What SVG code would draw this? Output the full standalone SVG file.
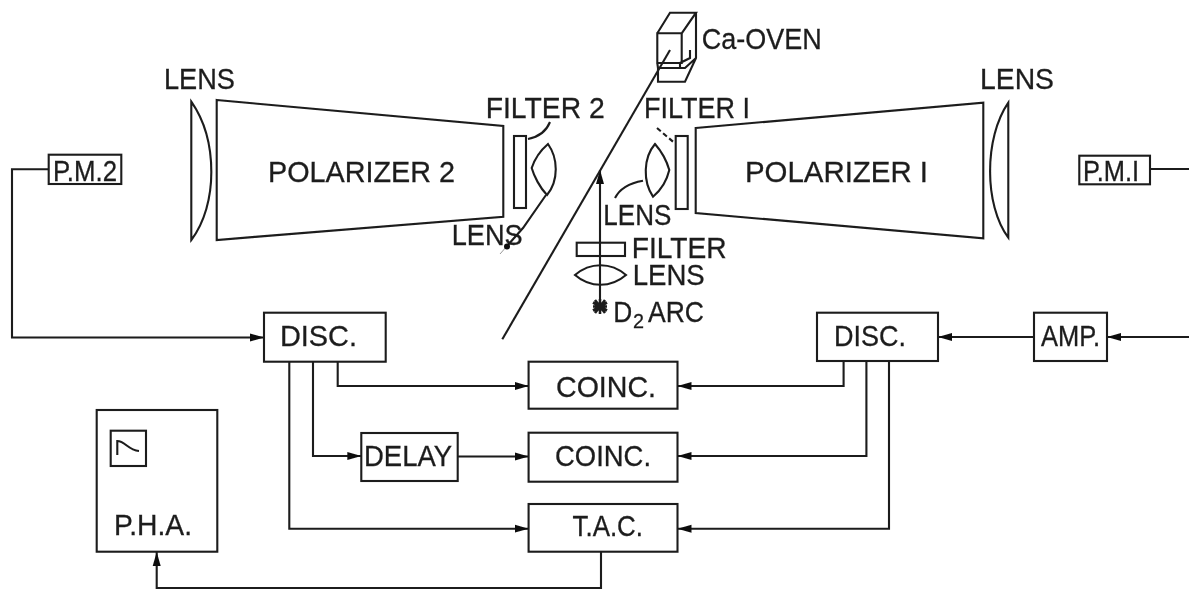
<svg xmlns="http://www.w3.org/2000/svg" width="1189" height="590" viewBox="0 0 1189 590">
<style>
.s{fill:none;stroke:#1c1c1c;stroke-width:2.1;stroke-linejoin:miter}
.t{font-family:"Liberation Sans",Arial,sans-serif;font-size:29.500px;fill:#1c1c1c;stroke:#1c1c1c;stroke-width:.3}
.a{marker-end:url(#ah)}
</style>
<defs>
<marker id="ah" markerUnits="userSpaceOnUse" markerWidth="15" markerHeight="11" refX="14" refY="5.500" orient="auto"><path d="M0 1.500 L14 5.500 L0 9.500 Z" fill="#111"/></marker>
<filter id="soft" x="0" y="0" width="1189" height="590" filterUnits="userSpaceOnUse"><feGaussianBlur stdDeviation="0.45"/></filter>
</defs>
<rect width="1189" height="590" fill="#fff"/>
<g filter="url(#soft)">
<g id="connectors">
<path class="s a" d="M48.700 169.300H12V337.500H264"/>
<path class="s" d="M1150 169H1189"/>
<path class="s a" d="M1189 337H1107"/>
<path class="s a" d="M1034 337H938"/>
<path class="s a" d="M337.700 362V386H528.600"/>
<path class="s a" d="M313 362V456H361.300"/>
<path class="s a" d="M289.300 362V528.700H528.600"/>
<path class="s a" d="M457.700 456.500H528.600"/>
<path class="s a" d="M843.600 361V386H677.500"/>
<path class="s a" d="M866.400 361V456H677.500"/>
<path class="s a" d="M889 361V528.700H677.500"/>
<path class="s a" d="M601 552V588H156.700V552"/>
<path class="s a" d="M600 300V170"/>
<path class="s" d="M502.300 339.300L670 50"/>
<path class="s" d="M528 139C538 137 546 132 550 122"/>
<path class="s" d="M546 195L523 228L507 246"/>
<path style="stroke:#999;stroke-width:1;fill:none" d="M507 246L500 254"/>
<circle cx="507" cy="246.500" r="3" fill="#111"/>
<path class="s" d="M657 128L673 141.700" stroke-dasharray="5 3"/>
<path class="s" d="M643 180.700C630 183 620 188 615 198"/>
</g>
<g id="ca-oven">
<path class="s" d="M657.300 33.300H681.700V63H657.300ZM657.300 33.300L670 12.700H696L681.700 33.300M696 12.700V58L685 81.700H658V68H685L696 58M690 50V58L680 63V68M658 68L657.300 63"/>
<text class="t" x="701.700" y="49" textLength="120" lengthAdjust="spacingAndGlyphs">Ca-OVEN</text>
</g>
<g id="lens-outer-left">
<path class="s" d="M191.300 101.700V240C218 205 218 140 191.300 101.700Z"/>
<text class="t" x="164" y="89.300" textLength="71" lengthAdjust="spacingAndGlyphs">LENS</text>
</g>
<g id="polarizer-2">
<path class="s" d="M216.700 100L503.300 126V216.700L216.700 240Z"/>
<text class="t" x="268" y="181.500" textLength="187" lengthAdjust="spacingAndGlyphs">POLARIZER 2</text>
</g>
<g id="filter-2">
<rect class="s" x="514" y="136" width="12" height="72"/>
<text class="t" x="485.700" y="118.300" textLength="119" lengthAdjust="spacingAndGlyphs">FILTER 2</text>
</g>
<g id="lens-2">
<path class="s" d="M548 144C558 158 559 180 547 195C540 188 534 176 531.700 168C535 158 541 150 548 144Z"/>
<text class="t" x="451.700" y="245" textLength="71" lengthAdjust="spacingAndGlyphs">LENS</text>
</g>
<g id="filter-1">
<rect class="s" x="675.700" y="136" width="12" height="73"/>
<text class="t" x="644" y="118.300" textLength="106" lengthAdjust="spacingAndGlyphs">FILTER I</text>
</g>
<g id="lens-1">
<path class="s" d="M655 144C662 152 667 162 669.300 170C667 180 661 190 653 196.700C643 182 643 158 655 144Z"/>
<text class="t" x="603.300" y="225" textLength="68" lengthAdjust="spacingAndGlyphs">LENS</text>
</g>
<g id="polarizer-1">
<path class="s" d="M695.700 128L983.300 102.700V238.300L695.700 213Z"/>
<text class="t" x="745" y="181.500" textLength="183" lengthAdjust="spacingAndGlyphs">POLARIZER I</text>
</g>
<g id="lens-outer-right">
<path class="s" d="M1008.300 102.700V237.700C984 205 984 138 1008.300 102.700Z"/>
<text class="t" x="980" y="89.300" textLength="74" lengthAdjust="spacingAndGlyphs">LENS</text>
</g>
<g id="pm2">
<rect class="s" x="48.700" y="154.700" width="72.600" height="29.300"/>
<text class="t" x="53" y="180.700" textLength="64" lengthAdjust="spacingAndGlyphs">P.M.2</text>
</g>
<g id="pm1">
<rect class="s" x="1079.300" y="155.700" width="70.700" height="28.600"/>
<text class="t" x="1083" y="180.700" textLength="56" lengthAdjust="spacingAndGlyphs">P.M.I</text>
</g>
<g id="filter">
<rect class="s" x="576.700" y="242.700" width="48.300" height="13.300"/>
<text class="t" x="631.700" y="258.300" textLength="95" lengthAdjust="spacingAndGlyphs">FILTER</text>
</g>
<g id="lens-3">
<path class="s" d="M575 275C590 262 611 262 626 275C611 288 590 288 575 275Z"/>
<text class="t" x="632.700" y="285" textLength="72" lengthAdjust="spacingAndGlyphs">LENS</text>
</g>
<g id="d2-arc">
<path class="s" style="stroke-width:2.600" d="M600 299V314M593 302.500L607 310.500M593 310.500L607 302.500M595 300L605 313M605 300L595 313M593 306.500H607"/>
<text class="t" x="613.300" y="321.700" textLength="19" lengthAdjust="spacingAndGlyphs">D</text>
<text class="t" x="633" y="328" style="font-size:21px" textLength="11" lengthAdjust="spacingAndGlyphs">2</text>
<text class="t" x="648" y="321.700" textLength="56" lengthAdjust="spacingAndGlyphs">ARC</text>
</g>
<g id="disc-left">
<rect class="s" x="264" y="312.700" width="121.700" height="49"/>
<text class="t" x="280" y="346" textLength="77" lengthAdjust="spacingAndGlyphs">DISC.</text>
</g>
<g id="disc-right">
<rect class="s" x="817" y="312.700" width="121" height="48.300"/>
<text class="t" x="834" y="345.500" textLength="72" lengthAdjust="spacingAndGlyphs">DISC.</text>
</g>
<g id="amp">
<rect class="s" x="1034" y="312.700" width="73" height="48.300"/>
<text class="t" x="1041" y="346" textLength="59" lengthAdjust="spacingAndGlyphs">AMP.</text>
</g>
<g id="coinc-1">
<rect class="s" x="528.600" y="361.700" width="148.900" height="47"/>
<text class="t" x="556" y="396.700" textLength="100" lengthAdjust="spacingAndGlyphs">COINC.</text>
</g>
<g id="delay">
<rect class="s" x="361.300" y="433" width="96.400" height="48"/>
<text class="t" x="364" y="465.700" textLength="88" lengthAdjust="spacingAndGlyphs">DELAY</text>
</g>
<g id="coinc-2">
<rect class="s" x="528.600" y="432.700" width="148.900" height="49"/>
<text class="t" x="555" y="466" textLength="96" lengthAdjust="spacingAndGlyphs">COINC.</text>
</g>
<g id="tac">
<rect class="s" x="528.600" y="504" width="148.900" height="47.700"/>
<text class="t" x="572.500" y="536" textLength="70.500" lengthAdjust="spacingAndGlyphs">T.A.C.</text>
</g>
<g id="pha">
<rect class="s" x="96.700" y="410" width="120.600" height="141.700"/>
<rect class="s" x="110.700" y="430.700" width="35.300" height="35.300"/>
<path class="s" d="M117.300 455V441C125 441 128 450 139 451"/>
<text class="t" x="114" y="535" textLength="78" lengthAdjust="spacingAndGlyphs">P.H.A.</text>
</g>
</g>
</svg>
